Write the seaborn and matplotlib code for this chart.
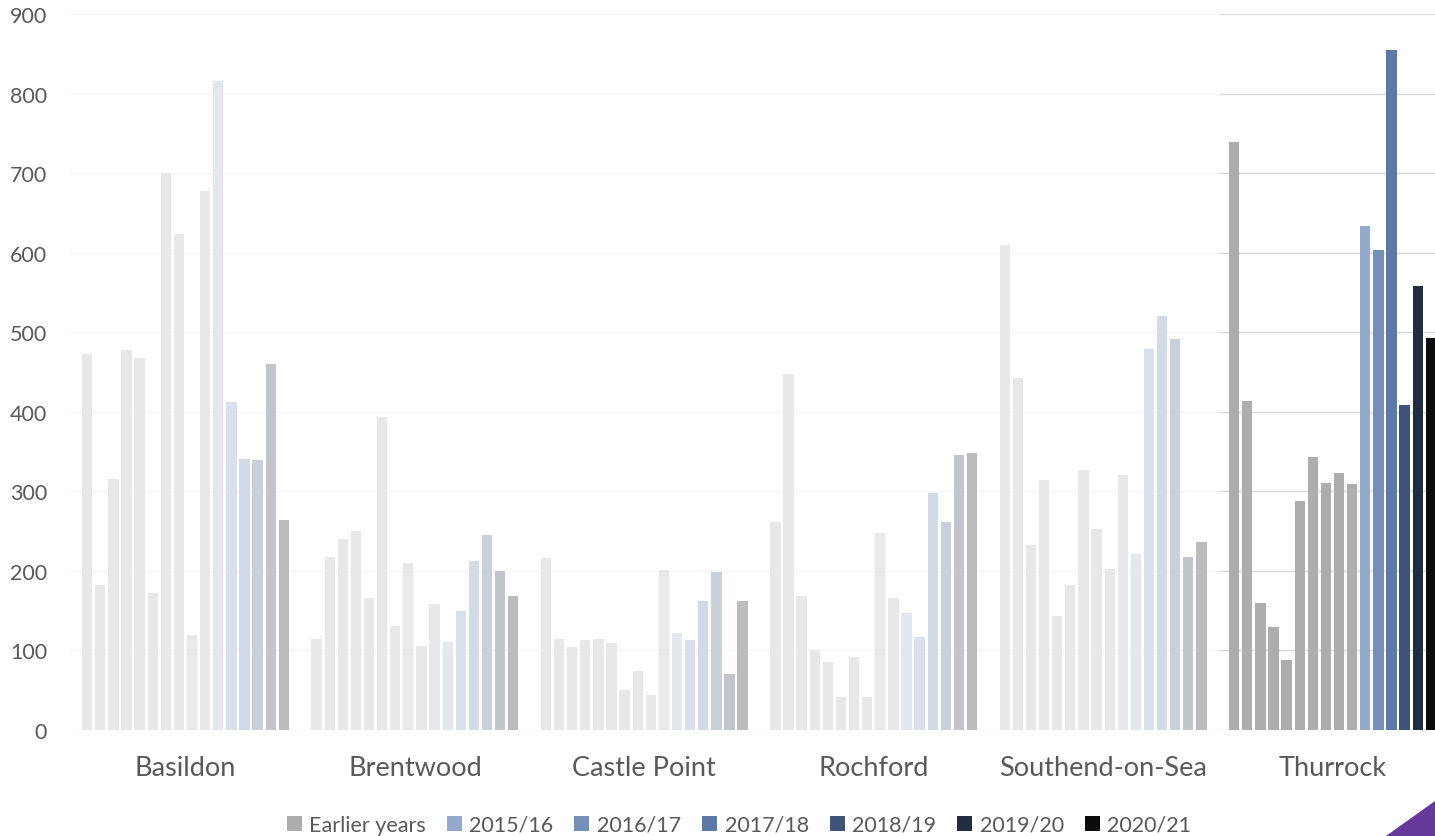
import numpy as np
import pandas as pd
import matplotlib
matplotlib.use("Agg")
import matplotlib.pyplot as plt
from matplotlib.patches import Patch, Rectangle, Polygon
import seaborn as sns

# ---------------- data ----------------
areas = ["Basildon", "Brentwood", "Castle Point", "Rochford", "Southend-on-Sea", "Thurrock"]
earlier_years = ["2005/06", "2006/07", "2007/08", "2008/09", "2009/10",
                 "2010/11", "2011/12", "2012/13", "2013/14", "2014/15"]
recent_years = ["2015/16", "2016/17", "2017/18", "2018/19", "2019/20", "2020/21"]
years = earlier_years + recent_years

basildon = [473, 182, 315, 478, 468, 172, 700, 623, 119, 678, 816, 412, 341, 340, 460, 264]
brentwood = [115, 218, 240, 250, 166, 394, 131, 210, 106, 158, 110, 149, 213, 245, 200, 168]
castle_point = [216, 114, 104, 113, 114, 109, 50, 74, 44, 201, 122, 113, 162, 199, 70, 162]
rochford = [261, 448, 168, 101, 85, 41, 92, 42, 247, 166, 147, 117, 298, 261, 346, 348]
southend = [610, 442, 233, 314, 143, 182, 327, 253, 203, 321, 221, 479, 520, 491, 218, 236]
thurrock = [739, 413, 160, 130, 88, 288, 343, 311, 323, 309, 633, 603, 855, 409, 558, 493]

legend_labels = ["Earlier years"] + recent_years
legend_colors = ["#adadad", "#95a9cb", "#7490b8", "#5b7aa8", "#3f5479", "#222d42", "#0b0b10"]

series = [basildon, brentwood, castle_point, rochford, southend, thurrock]
rows = []
for area, vals in zip(areas, series):
    for yr, v in zip(years, vals):
        rows.append({"area": area, "year": yr, "value": v})
df = pd.DataFrame(rows)

palette = {yr: legend_colors[0] for yr in earlier_years}
for yr, c in zip(recent_years, legend_colors[1:]):
    palette[yr] = c

# ---------------- style ----------------
sns.set_style("white")
plt.rcParams["font.family"] = ["Lato", "DejaVu Sans"]
txt = "#595959"

W, H = 1435, 837
fig = plt.figure(figsize=(W / 100, H / 100), dpi=100)
ax_left, ax_right, ax_top, ax_bottom = 70.8, 1447.2, 15, 731
ax = fig.add_axes([ax_left / W, 1 - ax_bottom / H, (ax_right - ax_left) / W, (ax_bottom - ax_top) / H])

sns.barplot(data=df, x="area", y="value", hue="year", order=areas, hue_order=years,
            palette=palette, saturation=1, width=0.914, gap=0.214, errorbar=None,
            linewidth=0, legend=False, ax=ax)

ax.set_xlim(-0.5, 5.5)
ax.set_ylim(0, 900)
ax.set_yticks(np.arange(0, 901, 100))
ax.yaxis.grid(True, color="#d9d9d9", linewidth=1.0)
ax.xaxis.grid(False)
ax.set_axisbelow(True)
for s in ax.spines.values():
    s.set_visible(False)
ax.set_xlabel("")
ax.set_ylabel("")
ax.tick_params(axis="y", length=0, pad=17, labelsize=15.5, labelcolor=txt)
ax.tick_params(axis="x", length=0, pad=18, labelsize=19.5, labelcolor=txt)

# spotlight: fade everything except Thurrock
box_x = 4.51
ax.add_patch(Rectangle((-0.5, -10), box_x + 0.5, 925, facecolor="white", alpha=0.73,
                       edgecolor="none", zorder=10, clip_on=False))

# legend
handles = [Patch(facecolor=c, edgecolor="none", label=l) for l, c in zip(legend_labels, legend_colors)]
fig.legend(handles=handles, loc="center", bbox_to_anchor=(739 / W, 1 - 826 / H), ncol=7,
           frameon=False, fontsize=15.5, labelcolor=txt, handlelength=0.7, handleheight=0.7,
           handletextpad=0.35, columnspacing=0.97, borderpad=0, borderaxespad=0)

# purple corner triangle
fig.patches.append(Polygon([(1386 / W, 0), (1, 0), (1, 35 / H)], closed=True,
                           facecolor="#65399a", edgecolor="none", transform=fig.transFigure))

fig.savefig("out.png", dpi=100)
